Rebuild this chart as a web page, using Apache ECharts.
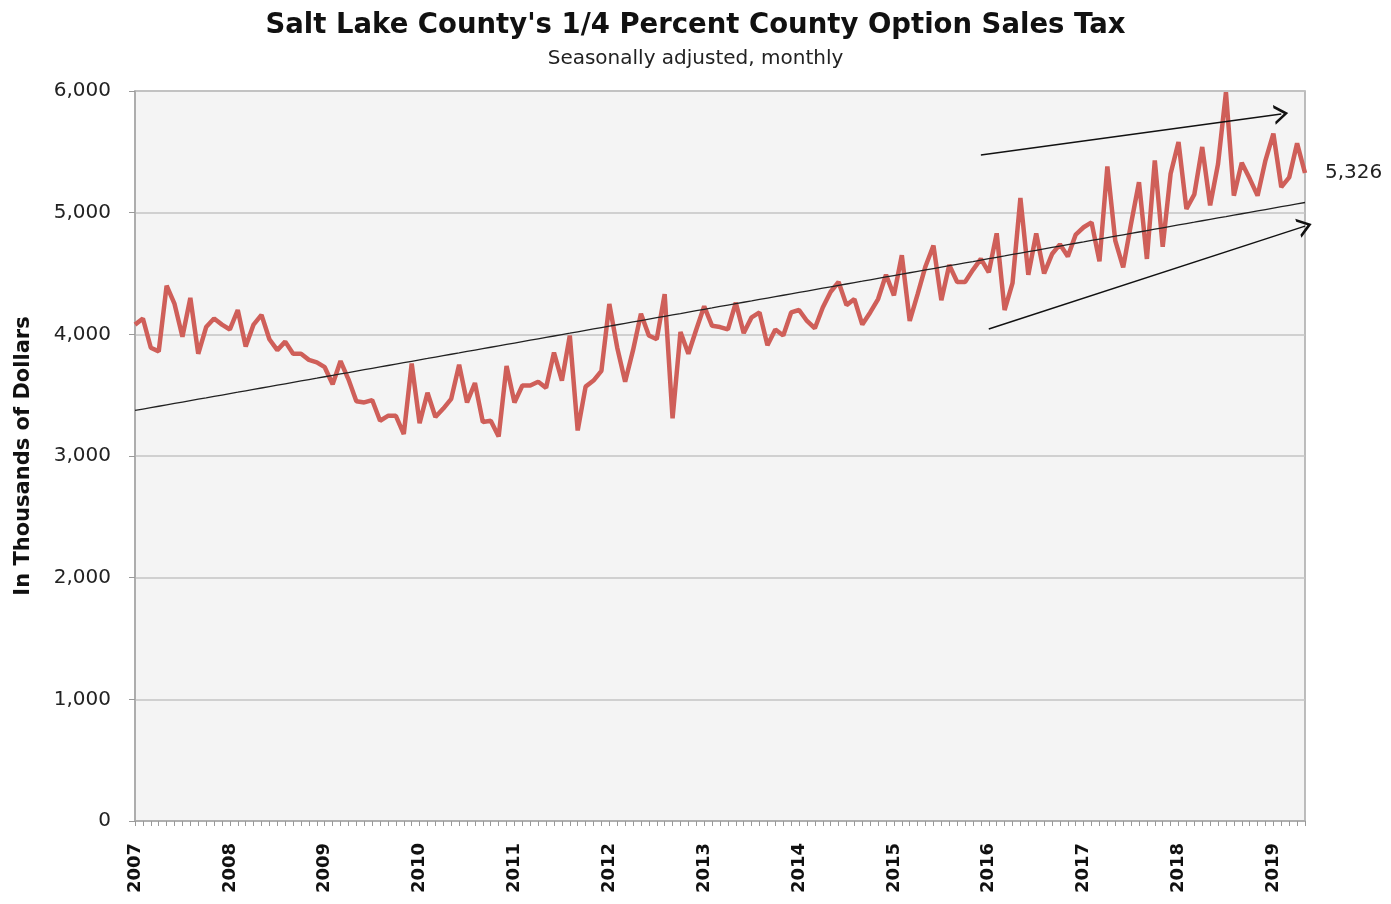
<!DOCTYPE html>
<html>
<head>
<meta charset="utf-8">
<script src="https://cdn.jsdelivr.net/npm/echarts@6/dist/echarts.min.js"></script>
<style>
html, body { margin: 0; padding: 0; background: #fff; }
#chart { width: 1391px; height: 904px; }
</style>
</head>
<body>
<div id="chart"></div>
<script>
// monthly sales tax, thousands of dollars, Jan 2007 .. May 2019
const firstYear = 2007;
const salesTax = [
    4080, 4130, 3890, 3860, 4400, 4250, 3980, 4300, 3840, 4060, 4130, 4080,
    4040, 4200, 3900, 4080, 4160, 3960, 3870, 3940, 3840, 3840, 3790, 3770,
    3730, 3590, 3780, 3630, 3450, 3440, 3460, 3290, 3330, 3330, 3180, 3760,
    3270, 3520, 3320, 3390, 3470, 3750, 3440, 3600, 3280, 3290, 3160, 3740,
    3440, 3580, 3580, 3610, 3560, 3850, 3620, 3990, 3210, 3570, 3620, 3700,
    4250, 3890, 3610, 3870, 4170, 3990, 3960, 4330, 3310, 4020, 3840, 4040,
    4230, 4070, 4060, 4040, 4260, 4010, 4140, 4180, 3910, 4040, 3990, 4180,
    4200, 4110, 4050, 4220, 4350, 4430, 4240, 4290, 4080, 4180, 4290, 4490,
    4320, 4650, 4110, 4330, 4560, 4730, 4280, 4570, 4430, 4430, 4530, 4620,
    4510, 4830, 4200, 4420, 5120, 4490, 4830, 4500, 4660, 4740, 4640, 4820,
    4880, 4920, 4600, 5380, 4770, 4550, 4910, 5250, 4620, 5430, 4720, 5320,
    5580, 5030, 5150, 5540, 5060, 5400, 5990, 5140, 5410, 5280, 5140, 5430,
    5650, 5210, 5290, 5570, 5326
];
const yTicks = [0, 1000, 2000, 3000, 4000, 5000, 6000];
// hand-drawn arrows: [month index, value] start -> end
const arrowUpper = [[107, 5474], [145, 5811]];
const arrowLower = [[108, 4044], [148, 4890]];

// categories: one per month
let months = [];
for (let i = 0; i < salesTax.length; i++) {
    let y = firstYear + Math.floor(i / 12);
    let m = (i % 12) + 1;
    months.push(y + '-' + (m < 10 ? '0' + m : m));
}

// linear trend (least squares)
let n = salesTax.length, sx = 0, sy = 0, sxy = 0, sxx = 0;
salesTax.forEach(function(v, i) {
    sx += i; sy += v; sxy += i * v; sxx += i * i;
});
let slope = (n * sxy - sx * sy) / (n * sxx - sx * sx);
let icept = (sy - slope * sx) / n;
let trend = salesTax.map(function(v, i) { return +(icept + slope * i).toFixed(1); });

const chevron = 'path://M0,10 L5,0 L10,10 L8.4,10 L5,3.2 L1.6,10 Z';
const font = '"DejaVu Sans", sans-serif';

let chartDom = document.getElementById('chart');
let myChart = echarts.init(chartDom);
let option = {
    animation: false,
    textStyle: { fontFamily: font },
    title: {
        text: "Salt Lake County's 1/4 Percent County Option Sales Tax",
        subtext: 'Seasonally adjusted, monthly',
        left: 'center',
        top: 7,
        itemGap: 9,
        textStyle: { fontFamily: font, fontWeight: 'bold', fontSize: 27.5, color: '#111' },
        subtextStyle: { fontFamily: font, fontSize: 20, color: '#222' }
    },
    grid: {
        left: 135,
        right: 86,
        top: 91,
        bottom: 83,
        outerBoundsMode: 'none',
        show: true,
        backgroundColor: '#f4f4f4',
        borderColor: '#a8a8a8',
        borderWidth: 1.5
    },
    xAxis: {
        type: 'category',
        data: months,
        boundaryGap: false,
        axisLine: { lineStyle: { color: '#a8a8a8', width: 1.5 } },
        axisTick: { interval: 0, length: 5, lineStyle: { color: '#999' } },
        axisLabel: {
            interval: function(i) { return i % 12 === 0; },
            formatter: function(v) { return v.slice(0, 4); },
            rotate: 90,
            margin: 22,
            fontFamily: font,
            fontWeight: 'bold',
            fontSize: 18,
            color: '#111'
        },
        splitLine: { show: false }
    },
    yAxis: {
        type: 'value',
        min: yTicks[0],
        max: yTicks[yTicks.length - 1],
        interval: 1000,
        name: 'In Thousands of Dollars',
        nameLocation: 'middle',
        nameGap: 101,
        nameTextStyle: { fontFamily: font, fontWeight: 'bold', fontSize: 21, color: '#111' },
        axisLine: { show: true, lineStyle: { color: '#a8a8a8', width: 1.5 } },
        axisTick: { show: true, length: 6, lineStyle: { color: '#999' } },
        axisLabel: {
            margin: 24,
            fontFamily: font,
            fontSize: 20,
            color: '#222',
            formatter: function(v) { return v.toLocaleString('en-US'); }
        },
        splitLine: { lineStyle: { color: '#c4c4c4', width: 1.5 } }
    },
    series: [{
            name: 'Sales tax',
            type: 'line',
            data: salesTax,
            symbol: 'none',
            lineStyle: { color: '#cf5f59', width: 4.5 },
            endLabel: {
                show: true,
                distance: 20,
                fontFamily: font,
                fontSize: 20,
                color: '#222',
                formatter: function(p) { return p.value.toLocaleString('en-US'); }
            }
        },
        {
            name: 'Trend',
            type: 'line',
            data: trend,
            symbol: 'none',
            lineStyle: { color: '#222', width: 1.3 },
            silent: true,
            markLine: {
                silent: true,
                symbol: ['none', chevron],
                symbolSize: [20, 14],
                label: { show: false },
                lineStyle: { color: '#111', width: 1.4, type: 'solid' },
                data: [
                    [{ coord: arrowUpper[0] }, { coord: arrowUpper[1] }],
                    [{ coord: arrowLower[0] }, { coord: arrowLower[1] }]
                ]
            }
        }
    ]
};
myChart.setOption(option);
window.addEventListener('resize', function() {
    myChart.resize();
});
</script>
</body>
</html>
